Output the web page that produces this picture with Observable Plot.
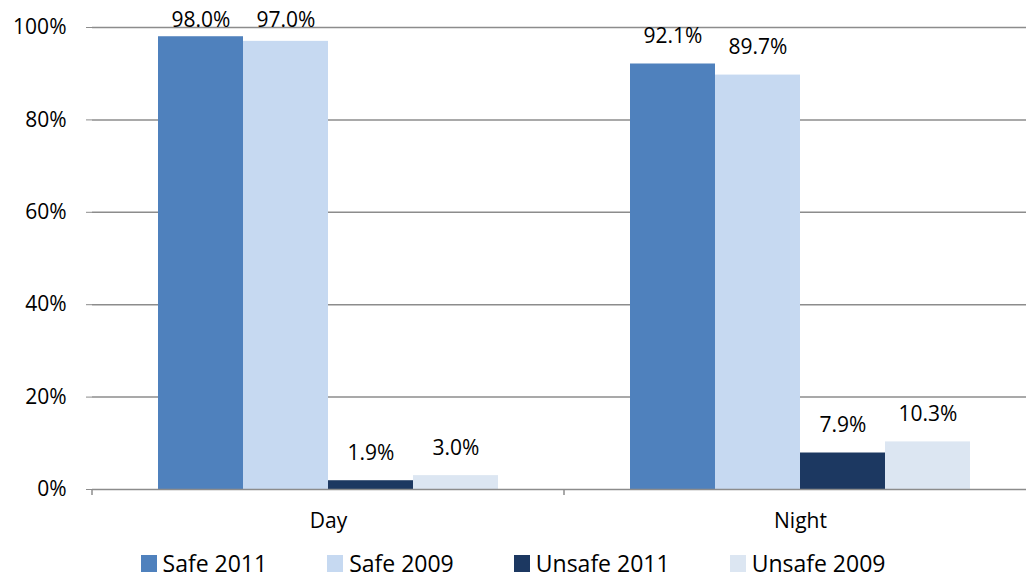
<!DOCTYPE html>
<html>
<head>
<meta charset="utf-8">
<script src="https://cdn.jsdelivr.net/npm/d3@7"></script>
<script src="https://cdn.jsdelivr.net/npm/@observablehq/plot@0.6"></script>
<style>
  html, body { margin: 0; padding: 0; background: #fff; overflow: hidden; }
  #chart svg { display: block; overflow: hidden; }
  .legend {
    display: flex; justify-content: center; align-items: center; gap: 60px;
    font-family: 'Open Sans', sans-serif; font-size: 23px; color: #000;
    padding-top: 2px; height: 32px; line-height: 1;
  }
  .legend span.item { display: flex; align-items: center; }
  .legend span.swatch { width: 16px; height: 17px; margin-right: 6px; display: inline-block; }
</style>
</head>
<body>
<div id="chart"></div>
<script>
// Share of respondents feeling safe / unsafe, day vs night, 2011 vs 2009
const categories = ["Day", "Night"];
const seriesNames = ["Safe 2011", "Safe 2009", "Unsafe 2011", "Unsafe 2009"];
const safe2011 = [98.0, 92.1];
const safe2009 = [97.0, 89.7];
const unsafe2011 = [1.9, 7.9];
const unsafe2009 = [3.0, 10.3];
const seriesColors = ["#4f81bd", "#c6d9f1", "#1c3861", "#dce6f2"];
const yTicks = [0, 20, 40, 60, 80, 100];

const valuesBySeries = [safe2011, safe2009, unsafe2011, unsafe2009];
const rows = categories.flatMap((category, i) =>
  seriesNames.map((series, j) => ({category, series, value: valuesBySeries[j][i]}))
);

const font = "'Open Sans', sans-serif";
const gray = "#8c8c8c";

const chart = Plot.plot({
  width: 1026,
  height: 545,
  marginLeft: 92,
  marginRight: -10,
  marginTop: 27,
  marginBottom: 56,
  style: {fontFamily: font, fontSize: "21px", color: "#000", background: "#fff"},
  fx: {domain: categories, padding: 0},
  x: {domain: seriesNames, paddingInner: 0, paddingOuter: 0.76, axis: null},
  y: {domain: [0, 100]},
  color: {domain: seriesNames, range: seriesColors},
  marks: [
    Plot.gridY(yTicks.filter(t => t > 0), {stroke: gray, strokeOpacity: 1, strokeWidth: 1.5}),
    Plot.barY(rows, {fx: "category", x: "series", y: "value", fill: "series"}),
    Plot.ruleY([0], {stroke: gray, strokeWidth: 1.5}),
    Plot.axisY({
      ticks: yTicks, tickFormat: d => d + "%", tickSize: 6, tickPadding: 20,
      stroke: gray, fill: "#000", line: true, label: null, fontSize: 21
    }),
    Plot.axisFx({anchor: "bottom", tickSize: 0, tickPadding: 24, label: null, fontSize: 21, fill: "#000"}),
    // value labels sit above each bar, kept inside the top of the frame
    Plot.text(rows, {
      fx: "category", x: "series",
      y: d => Math.min(d.value + 6, 101.5),
      text: d => d.value.toFixed(1) + "%",
      fontSize: 21, fill: "#000"
    })
  ]
});

// category boundary ticks below the baseline
const fxScale = chart.scale("fx");
const yScale = chart.scale("y");
const y0 = yScale.apply(0);
const edges = categories.map(c => fxScale.apply(c));
edges.push(fxScale.apply(categories[categories.length - 1]) + fxScale.bandwidth);
d3.select(chart).append("g")
  .attr("stroke", gray).attr("stroke-width", 1.5)
  .selectAll("line").data(edges).join("line")
  .attr("x1", d => d).attr("x2", d => d)
  .attr("y1", y0).attr("y2", y0 + 6);

document.getElementById("chart").append(chart);

// legend below the plot
const legend = document.createElement("div");
legend.className = "legend";
seriesNames.forEach((name, i) => {
  const item = document.createElement("span");
  item.className = "item";
  const sw = document.createElement("span");
  sw.className = "swatch";
  sw.style.background = seriesColors[i];
  item.append(sw, document.createTextNode(name));
  legend.append(item);
});
document.getElementById("chart").append(legend);
</script>
</body>
</html>
